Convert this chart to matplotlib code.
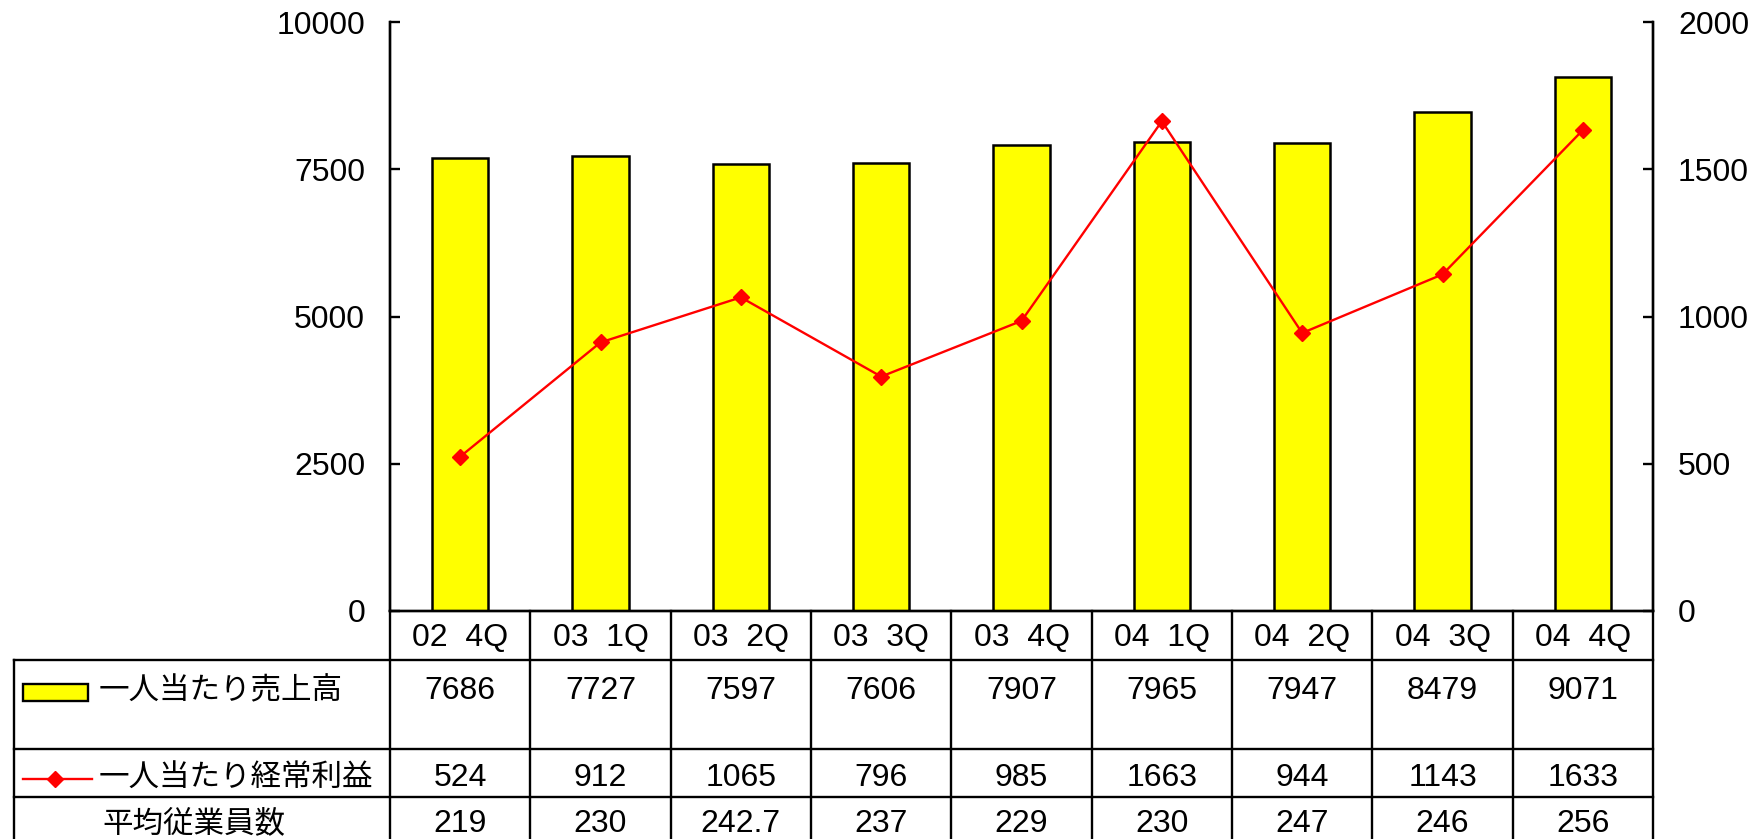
import matplotlib
matplotlib.use("Agg")
import matplotlib.pyplot as plt
import matplotlib.transforms as mtransforms
from matplotlib.patches import Rectangle
from matplotlib.lines import Line2D

plt.rcParams['font.family'] = ['Liberation Sans', 'Noto Sans CJK JP', 'DejaVu Sans']

categories = ["02  4Q", "03  1Q", "03  2Q", "03  3Q", "03  4Q",
              "04  1Q", "04  2Q", "04  3Q", "04  4Q"]
sales_per_person = [7686, 7727, 7597, 7606, 7907, 7965, 7947, 8479, 9071]
profit_per_person = [524, 912, 1065, 796, 985, 1663, 944, 1143, 1633]
avg_employees = ["219", "230", "242.7", "237", "229", "230", "247", "246", "256"]
row_labels = ["一人当たり売上高", "一人当たり経常利益", "平均従業員数"]
left_ticks = [0, 2500, 5000, 7500, 10000]
right_ticks = [0, 500, 1000, 1500, 2000]

W, H = 1760, 839
fig = plt.figure(figsize=(W / 100, H / 100), dpi=100)

def fx(px):
    return px / W

def fy(py):
    return 1 - py / H

ax_l, ax_r, ax_t, ax_b = 390, 1653, 22, 611
ax = fig.add_axes([fx(ax_l), fy(ax_b), fx(ax_r - ax_l), fy(ax_t) - fy(ax_b)])
ax2 = ax.twinx()

n = len(categories)
xs = list(range(n))
ax.bar(xs, sales_per_person, width=0.4, color="#FFFF00", edgecolor="black",
       linewidth=1.8, zorder=2)
ax.set_xlim(-0.5, n - 0.5)
ax.set_ylim(0, 10000)
ax.set_yticks(left_ticks)
ax.set_xticks([])

ax2.plot(xs, profit_per_person, color="#FF0000", lw=1.7, marker="D", ms=8.5,
         mec="#FF0000", mfc="#FF0000", zorder=3)
ax2.set_ylim(0, 2000)
ax2.set_yticks(right_ticks)
ax2.set_xlim(-0.5, n - 0.5)

fs_num = 23
fs_cjk = 22

for a in (ax, ax2):
    a.spines['top'].set_visible(False)
    for s in ('left', 'right', 'bottom'):
        a.spines[s].set_linewidth(1.7)
    a.tick_params(axis='y', direction='in', length=7, width=1.7, pad=18,
                  labelsize=fs_num)
    a.patch.set_visible(False)

# ---- data table below the chart ----
blend = mtransforms.blended_transform_factory(ax.transData, fig.transFigure)
lw_t = 1.7
left_px = 14
px_per_unit = (ax_r - ax_l) / n
x_left = -0.5 - (ax_l - left_px) / px_per_unit
x_right = n - 0.5

row_tops = [611, 660, 749, 797]
y_bottom = 845

def hline(x0, x1, ypx):
    fig.add_artist(Line2D([x0, x1], [fy(ypx), fy(ypx)], transform=blend,
                          color="black", lw=lw_t, clip_on=False))

def vline(x, y0px, y1px):
    fig.add_artist(Line2D([x, x], [fy(y0px), fy(y1px)], transform=blend,
                          color="black", lw=lw_t, clip_on=False))

hline(x_left, x_right, row_tops[1])
hline(x_left, x_right, row_tops[2])
hline(x_left, x_right, row_tops[3])
for i in range(n + 1):
    vline(i - 0.5, row_tops[0], y_bottom)
vline(x_left, row_tops[1], y_bottom)

header_y = 638
row_y = [691, 778, 824]
for i, c in enumerate(categories):
    fig.text(i, fy(header_y), c, fontsize=fs_num, ha='center', va='center',
             transform=blend)
    fig.text(i, fy(row_y[0]), f"{sales_per_person[i]}", fontsize=fs_num,
             ha='center', va='center', transform=blend)
    fig.text(i, fy(row_y[1]), f"{profit_per_person[i]}", fontsize=fs_num,
             ha='center', va='center', transform=blend)
    fig.text(i, fy(row_y[2]), avg_employees[i], fontsize=fs_num,
             ha='center', va='center', transform=blend)

# legend keys and row labels
fig.add_artist(Rectangle((fx(23), fy(701)), fx(65), fy(684) - fy(701),
                         transform=fig.transFigure, facecolor="#FFFF00",
                         edgecolor="black", lw=1.7))
fig.add_artist(Line2D([fx(23), fx(92)], [fy(779), fy(779)],
                      transform=fig.transFigure, color="#FF0000", lw=1.7))
fig.add_artist(Line2D([fx(55)], [fy(779)], transform=fig.transFigure,
                      color="#FF0000", marker="D", ms=8.5, lw=0))
fig.text(fx(99), fy(row_y[0]), row_labels[0], fontsize=fs_cjk, ha='left', va='center')
fig.text(fx(99), fy(row_y[1]), row_labels[1], fontsize=fs_cjk, ha='left', va='center')
fig.text(fx(194), fy(row_y[2]), row_labels[2], fontsize=fs_cjk, ha='center', va='center')

fig.savefig("out.png", dpi=100)
